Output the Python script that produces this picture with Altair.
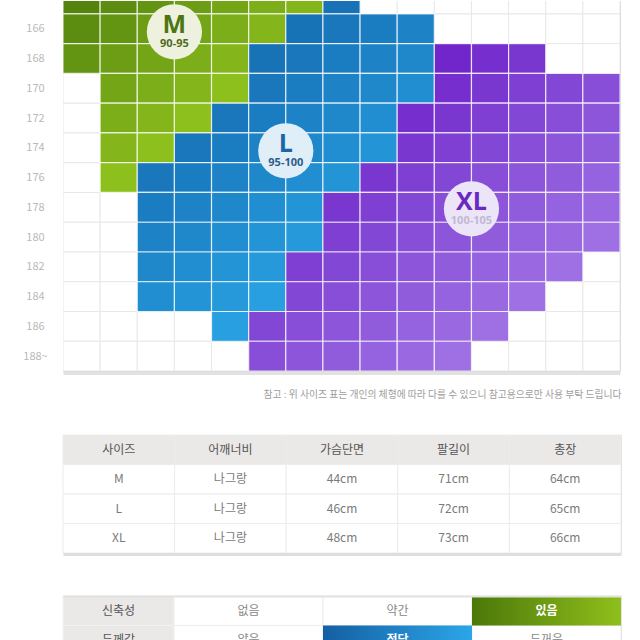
import altair as alt
import pandas as pd

FONT = "Noto Sans CJK KR"

# ---------------- data: size grid (height rows x chest columns) ----------------
heights = [164, 166, 168, 170, 172, 174, 176, 178, 180, 182, 184, 186, 188]
grid_rows = [
    "MMMMMMML.......",
    "MMMMMMLLLL.....",
    "MMMMMLLLLLXXX..",
    ".MMMMLLLLLXXXXX",
    ".MMMLLLLLXXXXXX",
    ".MMLLLLLLXXXXXX",
    ".MLLLLLLXXXXXXX",
    "..LLLLLXXXXXXXX",
    "..LLLLLXXXXXXXX",
    "..LLLLXXXXXXXX.",
    "..LLLLXXXXXXX..",
    "....LXXXXXXX...",
    ".....XXXXXX....",
]
size_codes = {"M": "M", "L": "L", "X": "XL", ".": ""}

badge_sizes = ["M", "L", "XL"]
badge_ranges = ["90-95", "95-100", "100-105"]
badge_cols = [3, 6, 11]
badge_heights = [166.2, 174.2, 178.1]

# ---------------- data: measurement table ----------------
table_headers = ["사이즈", "어깨너비", "가슴단면", "팔길이", "총장"]
sizes = ["M", "L", "XL"]
shoulder = ["나그랑", "나그랑", "나그랑"]
chest = ["44cm", "46cm", "48cm"]
sleeve = ["71cm", "72cm", "73cm"]
length = ["64cm", "65cm", "66cm"]
note = "참고 : 위 사이즈 표는 개인의 체형에 따라 다를 수 있으니 참고용으로만 사용 부탁 드립니다"

# ---------------- data: fabric table ----------------
fabric_rows = ["신축성", "두께감"]
stretch_opts = ["없음", "약간", "있음"]
thick_opts = ["얇음", "적당", "두꺼움"]
stretch_sel = "있음"
thick_sel = "적당"

# ================= grid chart =================
cells = []
for h, s in zip(heights, grid_rows):
    for c, ch in enumerate(s):
        cells.append({"col": c, "col2": c + 1, "h": h, "size": size_codes[ch]})
cells_df = pd.DataFrame(cells)

xs = alt.Scale(domain=[0, 15], nice=False, zero=False)
ys = alt.Scale(domain=[164.13, 189], reverse=True, nice=False, zero=False)

x_axis = alt.Axis(orient="bottom", labels=False, ticks=False, grid=False, title=None,
                  domainColor="#e2e2e2", domainWidth=3, offset=2)
y_axis = alt.Axis(values=heights[1:], grid=False, domain=False, ticks=False, title=None,
                  labelAlign="center", labelPadding=28, labelFontSize=11, labelOverlap=False,
                  labelSeparation=0, labelBound=False,
                  labelColor="#b9b9b9", labelFont=FONT,
                  labelExpr="datum.value == 188 ? '188~' : datum.label")

base = alt.Chart(cells_df).transform_calculate(
    y0="datum.h - 1", y1="datum.h + 1"
).encode(
    x=alt.X("col:Q", scale=xs, axis=x_axis),
    x2="col2:Q",
    y=alt.Y("y0:Q", scale=ys, axis=y_axis),
    y2="y1:Q",
)

empty_layer = base.mark_rect(fill="white", stroke="#e8e8e8", strokeWidth=1, clip=True).transform_filter(
    "datum.size == ''")


def size_layer(code, dark, light):
    return base.mark_rect(stroke="white", strokeWidth=1.2, strokeOpacity=0.75, clip=True).transform_filter(
        f"datum.size == '{code}'"
    ).transform_calculate(
        k="datum.col + (datum.h - 164) / 2"
    ).encode(
        color=alt.Color("k:Q", scale=alt.Scale(range=[dark, light]), legend=None)
    )


m_layer = size_layer("M", "#55840e", "#8dbf1d")
l_layer = size_layer("L", "#1872b6", "#289fe0")
xl_layer = size_layer("XL", "#7126cb", "#9e70e3")

badges_df = pd.DataFrame({"size": badge_sizes, "range": badge_ranges,
                          "col": badge_cols, "h": badge_heights})
bbase = alt.Chart(badges_df).encode(
    x=alt.X("col:Q", scale=xs, axis=x_axis),
    y=alt.Y("h:Q", scale=ys, axis=y_axis),
)
circles = bbase.mark_circle(size=3050, opacity=1, clip=True).encode(
    color=alt.Color("size:N", scale=alt.Scale(domain=badge_sizes,
                    range=["#eef1dd", "#e0eef8", "#ece4f7"]), legend=None)
)
big_txt = bbase.mark_text(font="Open Sans", fontSize=25, fontWeight="bold", dy=-7, baseline="middle").encode(
    text="size:N",
    color=alt.Color("size:N", scale=alt.Scale(domain=badge_sizes,
                    range=["#4d7512", "#1d66a6", "#6a28c2"]), legend=None)
)
small_txt = bbase.mark_text(font="Open Sans", fontSize=11, fontWeight="bold", dy=12, baseline="middle").encode(
    text="range:N",
    color=alt.Color("size:N", scale=alt.Scale(domain=badge_sizes,
                    range=["#4f6a22", "#2d5d8a", "#c2b8d2"]), legend=None)
)

grid = alt.layer(empty_layer, m_layer, l_layer, xl_layer, circles, big_txt, small_txt).resolve_scale(
    color="independent"
).properties(width=557, height=370)

# ================= measurement table =================
rows_order = ["hdr"] + sizes
t1 = []
for h in table_headers:
    t1.append({"row": "hdr", "col": h, "text": h, "kind": "head"})
for i, s in enumerate(sizes):
    vals = [s, shoulder[i], chest[i], sleeve[i], length[i]]
    for h, v in zip(table_headers, vals):
        t1.append({"row": s, "col": h, "text": v, "kind": "body"})
t1_df = pd.DataFrame(t1)

t1_base = alt.Chart(t1_df).encode(
    x=alt.X("col:N", sort=table_headers, scale=alt.Scale(paddingInner=0, paddingOuter=0),
            axis=alt.Axis(orient="bottom", labels=False, ticks=False, title=None,
                          domainColor="#dedede", domainWidth=3, offset=1)),
    y=alt.Y("row:N", sort=rows_order, scale=alt.Scale(paddingInner=0, paddingOuter=0), axis=None),
)
t1_rect = t1_base.mark_rect(stroke="#ececec", strokeWidth=1).encode(
    fill=alt.condition("datum.kind == 'head'", alt.value("#ebe8e8"), alt.value("#ffffff"))
)
t1_text = t1_base.mark_text(font=FONT, fontSize=12).encode(
    text="text:N",
    color=alt.condition("datum.kind == 'head'", alt.value("#555555"), alt.value("#7a7a7a"))
)
table1 = alt.layer(t1_rect, t1_text).properties(
    width=558, height=118,
    title=alt.TitleParams(text=note, anchor="end", fontSize=9.8, font=FONT, color="#9d9d9d",
                          fontWeight="normal", offset=35),
)

# ================= fabric table =================
lab_df = pd.DataFrame({"row": fabric_rows, "c": ["label"] * len(fabric_rows)})
lab_base = alt.Chart(lab_df).encode(
    x=alt.X("c:N", scale=alt.Scale(paddingInner=0, paddingOuter=0),
            axis=alt.Axis(orient="top", labels=False, ticks=False, title=None,
                          domainColor="#e2e2e2", domainWidth=2)),
    y=alt.Y("row:N", sort=fabric_rows, scale=alt.Scale(paddingInner=0, paddingOuter=0), axis=None),
)
lab_chart = alt.layer(
    lab_base.mark_rect(fill="#ebe8e8", stroke="#f3f3f3", strokeWidth=1),
    lab_base.mark_text(font=FONT, fontSize=12, color="#555555").encode(text="row:N"),
).properties(width=111, height=59)

opts = []
for row, options, sel in [(fabric_rows[0], stretch_opts, stretch_sel),
                          (fabric_rows[1], thick_opts, thick_sel)]:
    for j, o in enumerate(options):
        opts.append({"row": row, "idx": j, "text": o, "sel": o == sel})
opt_df = pd.DataFrame(opts)

opt_base = alt.Chart(opt_df).encode(
    x=alt.X("idx:O", scale=alt.Scale(paddingInner=0, paddingOuter=0),
            axis=alt.Axis(orient="top", labels=False, ticks=False, title=None,
                          domainColor="#e2e2e2", domainWidth=2)),
    y=alt.Y("row:N", sort=fabric_rows, scale=alt.Scale(paddingInner=0, paddingOuter=0), axis=None),
)
green_grad = alt.Gradient(gradient="linear", x1=0, y1=0, x2=1, y2=0, stops=[
    alt.GradientStop(color="#4c780a", offset=0), alt.GradientStop(color="#8fbf1b", offset=1)])
blue_grad = alt.Gradient(gradient="linear", x1=0, y1=0, x2=1, y2=0, stops=[
    alt.GradientStop(color="#145fa3", offset=0), alt.GradientStop(color="#2ba6e8", offset=1)])

opt_chart = alt.layer(
    opt_base.mark_rect(fill="white", stroke="#ececec", strokeWidth=1),
    opt_base.mark_rect(fill=green_grad).transform_filter(
        f"datum.sel && datum.row == '{fabric_rows[0]}'"),
    opt_base.mark_rect(fill=blue_grad).transform_filter(
        f"datum.sel && datum.row == '{fabric_rows[1]}'"),
    opt_base.mark_text(font=FONT, fontSize=12, color="#888888").encode(text="text:N").transform_filter(
        "!datum.sel"),
    opt_base.mark_text(font=FONT, fontSize=12, fontWeight="bold", color="#ffffff").encode(
        text="text:N").transform_filter("datum.sel"),
).properties(width=447, height=59)

table2 = alt.hconcat(lab_chart, opt_chart, spacing=0, bounds="flush")

chart = alt.vconcat(
    grid,
    alt.vconcat(table1, table2, spacing=43, bounds="flush"),
    spacing=64, bounds="flush",
).properties(
    padding={"left": 22, "top": 0, "right": 0, "bottom": 0}
).configure_view(stroke=None).configure(font=FONT).configure_axis(labelOverlap=False)

chart.save("out.html", embed_options={"renderer": "svg", "actions": False})
